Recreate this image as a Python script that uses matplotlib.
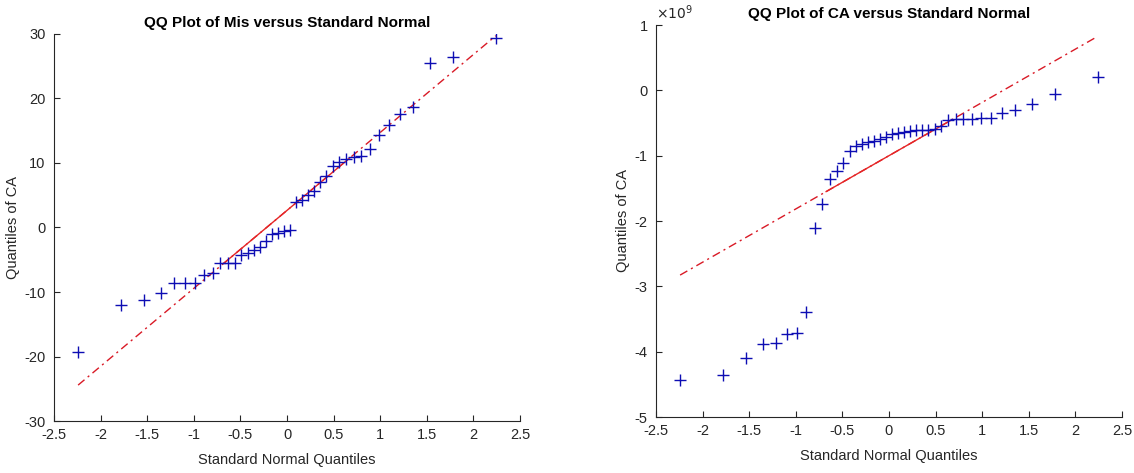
import numpy as np
import matplotlib
matplotlib.use("Agg")
import matplotlib.pyplot as plt
from matplotlib.ticker import FuncFormatter

plt.rcParams['font.family'] = ['Liberation Sans', 'DejaVu Sans']
plt.rcParams['axes.unicode_minus'] = False

# Standard normal quantiles (plotting positions (i-0.5)/40)
normal_q = [-2.2414, -1.7805, -1.5341, -1.3563, -1.2133, -1.0920, -0.9842, -0.8871,
            -0.7978, -0.7144, -0.6356, -0.5607, -0.4888, -0.4193, -0.3518, -0.2858,
            -0.2211, -0.1573, -0.0941, -0.0313, 0.0313, 0.0941, 0.1573, 0.2211,
            0.2858, 0.3518, 0.4193, 0.4888, 0.5607, 0.6356, 0.7144, 0.7978,
            0.8871, 0.9842, 1.0920, 1.2133, 1.3563, 1.5341, 1.7805, 2.2414]

# Left panel: sorted sample quantiles of Mis
mis_q = [-19.3, -12.0, -11.3, -10.1, -8.6, -8.6, -8.6, -7.3,
         -7.0, -5.5, -5.5, -5.5, -4.3, -4.0, -3.5, -3.1,
         -2.1, -1.0, -0.9, -0.6, -0.4, 4.0, 4.3, 5.0,
         5.7, 7.0, 8.0, 9.6, 10.2, 10.6, 11.0, 11.1,
         12.2, 14.3, 15.9, 17.6, 18.7, 25.5, 26.5, 29.4]

# Right panel: sorted sample quantiles of CA
ca_q = [-4.44e9, -4.35e9, -4.09e9, -3.88e9, -3.86e9, -3.73e9, -3.71e9, -3.40e9,
        -2.11e9, -1.74e9, -1.36e9, -1.23e9, -1.11e9, -0.93e9, -0.85e9, -0.82e9,
        -0.79e9, -0.77e9, -0.75e9, -0.72e9, -0.67e9, -0.66e9, -0.64e9, -0.62e9,
        -0.61e9, -0.61e9, -0.60e9, -0.59e9, -0.55e9, -0.46e9, -0.44e9, -0.44e9,
        -0.44e9, -0.43e9, -0.42e9, -0.35e9, -0.30e9, -0.21e9, -0.06e9, 0.21e9]

titles = ["QQ Plot of Mis versus Standard Normal", "QQ Plot of CA versus Standard Normal"]
xlabel = "Standard Normal Quantiles"
ylabel = "Quantiles of CA"
xticks = [-2.5, -2, -1.5, -1, -0.5, 0, 0.5, 1, 1.5, 2, 2.5]
left_yticks = [-30, -20, -10, 0, 10, 20, 30]
right_yticks = [-5e9, -4e9, -3e9, -2e9, -1e9, 0, 1e9]
right_exponent = 9

TXT = '#262626'
fig = plt.figure(figsize=(11.34, 4.73), dpi=100)
ax1 = fig.add_axes([54/1134, 1-421/473, 466/1134, 387/473])
ax2 = fig.add_axes([656/1134, 1-417/473, 466/1134, 392/473])


def qq(ax, xq, yq, title, yticks):
    xq = np.asarray(xq); yq = np.asarray(yq)
    q1, q3 = np.percentile(yq, [25, 75], method='hazen')
    z = 0.6744897501960817
    slope = (q3 - q1) / (2 * z)
    inter = (q1 + q3) / 2
    xe = np.array([xq.min(), xq.max()])
    ax.plot(xe, inter + slope * xe, color=(0.85, 0.1, 0.15), lw=1.0,
            dashes=(6, 3, 1.5, 3), zorder=2)
    xs = np.array([-z, z])
    ax.plot(xs, inter + slope * xs, color=(0.9, 0.15, 0.15), lw=1.0, zorder=2)
    ax.plot(xq, yq, ls='none', marker='+', color=(0.05, 0.05, 0.7),
            ms=8, mew=1.0, zorder=3)
    ax.set_xlim(-2.5, 2.5)
    ax.set_ylim(yticks[0], yticks[-1])
    ax.set_xticks(xticks)
    ax.set_xticklabels([f"{t:g}" for t in xticks])
    ax.set_yticks(yticks)
    for s in ['top', 'right']:
        ax.spines[s].set_visible(False)
    for s in ['left', 'bottom']:
        ax.spines[s].set_color(TXT)
        ax.spines[s].set_linewidth(0.8)
    ax.tick_params(direction='in', length=4, width=0.8, colors=TXT,
                   labelsize=10.5, labelcolor=TXT)
    ax.tick_params(axis='y', pad=6)
    ax.tick_params(axis='x', pad=5)
    ax.set_title(title, fontsize=11, fontweight='bold', color='black', pad=5)
    ax.set_xlabel(xlabel, fontsize=10.5, color=TXT, labelpad=8)
    ax.set_ylabel(ylabel, fontsize=10.5, color=TXT, labelpad=3)


qq(ax1, normal_q, mis_q, titles[0], left_yticks)
qq(ax2, normal_q, ca_q, titles[1], right_yticks)

scale = 10.0 ** right_exponent
ax2.yaxis.set_major_formatter(FuncFormatter(lambda v, p: f"{v/scale:g}"))
ax2.text(0.0, 1.008, r'$\times10^{%d}$' % right_exponent, transform=ax2.transAxes,
         ha='left', va='bottom', fontsize=10, color=TXT)

fig.savefig("out.png", dpi=100, facecolor='white')
